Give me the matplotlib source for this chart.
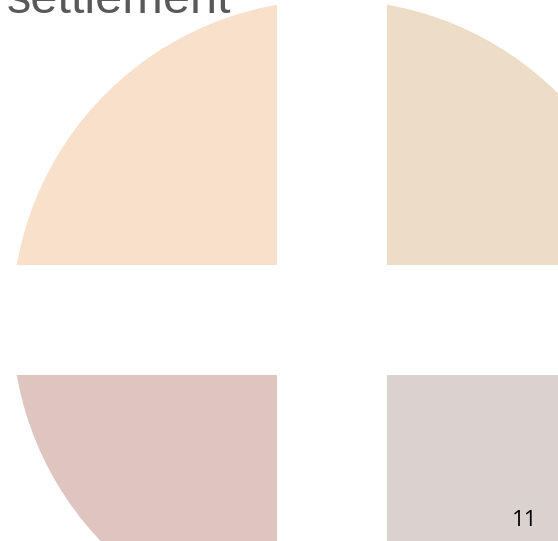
import matplotlib.pyplot as plt

# four equal quarters of the circle, counter-clockwise from the top-right one
quarters = [1, 1, 1, 1]
quarter_colors = ['#EDDCC6', '#F9E0CB', '#DEC5C0', '#DAD2CF']
title_text = 'settlement'
page_no = '11'

W, H = 558, 541
fig = plt.figure(figsize=(W / 100, H / 100), dpi=100)
ax = fig.add_axes([0, 0, 1, 1])

ax.pie(quarters, colors=quarter_colors, startangle=0, counterclock=True,
       center=(332, 221), radius=320, wedgeprops=dict(linewidth=0))

# white cross cut through the circle
ax.axvspan(277, 387, color='white', lw=0)
ax.axhspan(166, 276, color='white', lw=0)

ax.set_xlim(0, W)
ax.set_ylim(0, H)
ax.set_aspect('auto')
ax.axis('off')

# title runs off the top edge as on the original slide
ax.text(7, 528, title_text, fontsize=35, color='#595959',
        family='Liberation Sans', va='baseline', ha='left')
ax.text(525, 20, page_no, fontsize=16, color='black',
        family='Open Sans', va='center', ha='center')

fig.savefig('out.png', dpi=100, facecolor='white')
